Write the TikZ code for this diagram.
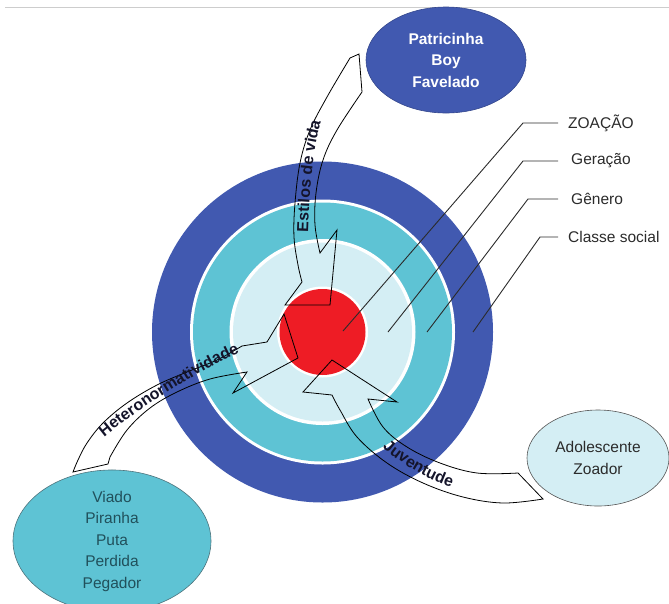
\documentclass[tikz,border=0pt]{standalone}
\usepackage{fontspec}
\setmainfont{Liberation Sans}
\usetikzlibrary{shapes.geometric,decorations.text}

\definecolor{ringblue}{HTML}{4159B0}
\definecolor{ringteal}{HTML}{5EC3D4}
\definecolor{ringpale}{HTML}{D4EEF4}
\definecolor{corered}{HTML}{EE1C25}
\definecolor{inkgray}{HTML}{2B2B2B}
\definecolor{tealink}{HTML}{21505B}
\definecolor{arrowink}{HTML}{14142A}
\definecolor{rulegray}{HTML}{CDCDCD}

\newcommand\arrowlabelfont{\bfseries\fontsize{16}{18}\selectfont\color{arrowink}}

\tikzset{
  layerlabel/.style={font=\fontsize{15.5}{18}\selectfont, text=inkgray,
    anchor=west, inner xsep=10pt, inner ysep=0pt},
  leader/.style={draw=inkgray, line width=0.9pt},
  blockarrow/.style={draw=black, line width=0.8pt, line join=miter},
  bubble/.style={ellipse, inner sep=0pt, align=center,
    font=\fontsize{15.5}{21.5}\selectfont},
  arrowtext/.style={decorate, decoration={text along path, text align=center,
    text={|\arrowlabelfont|#1}}}
}

\begin{document}
\begin{tikzpicture}[x=1pt, y=-1pt]
\useasboundingbox (0,0) rectangle (669,603);

% thin rule along the top edge
\draw[rulegray, line width=1.2pt] (5,7.5) -- (669,7.5);

% concentric target
\coordinate (c) at (322.5,332);
\fill[ringblue]  (c) circle[radius=170.5pt];
\fill[white]     (c) circle[radius=132.5pt];
\fill[ringteal]  (c) circle[radius=129.5pt];
\fill[white]     (c) circle[radius=93pt];
\fill[ringpale]  (c) circle[radius=89.5pt];
\fill[white]     (c) circle[radius=45.5pt];
\fill[corered]   (c) circle[radius=43pt];

% layer labels with leader lines
\node[layerlabel] (zoa) at (558,123) {ZOAÇÃO};
\node[layerlabel] (ger) at (558,161) {\hspace{3pt}Geração};
\node[layerlabel] (gen) at (558,199) {\hspace{3pt}Gênero};
\node[layerlabel] (cla) at (558,237) {Classe social};
\coordinate (zoa-tip) at (343,331);
\coordinate (ger-tip) at (388,332);
\coordinate (gen-tip) at (427,332);
\coordinate (cla-tip) at (473,332);
\draw[leader] (zoa-tip) -- (523,123) -- (zoa.west);
\draw[leader] (ger-tip) -- (523,161) -- (ger.west);
\draw[leader] (gen-tip) -- (528,199) -- (gen.west);
\draw[leader] (cla-tip) -- (540,237) -- (cla.west);

% category bubbles
\node[bubble, fill=ringblue, draw=ringblue!80!black, line width=0.6pt,
  minimum width=160pt, minimum height=106pt, text=white,
  font=\bfseries\fontsize{15.5}{21.5}\selectfont] (estilo) at (446,60)
  {Patricinha\\Boy\\Favelado};
\node[bubble, fill=ringpale, draw=inkgray!80, line width=0.6pt,
  minimum width=142pt, minimum height=96pt, text=inkgray] (juv) at (598,458)
  {Adolescente\\Zoador};
\node[bubble, fill=ringteal, draw=tealink!80, line width=0.6pt,
  minimum width=198pt, minimum height=123pt, text=tealink] (hetero) at (112,541)
  {Viado\\Piranha\\Puta\\Perdida\\Pegador};

% curved block arrow: Estilos de vida
\draw[blockarrow]
  plot[smooth, tension=0.6] coordinates {(350,58) (327,97) (310,130) (300,163) (295,203) (294,237) (298,265) (302,282)}
  -- (285,305) -- (330,305) -- (337,230) -- (320,253)
  -- plot[smooth, tension=0.6] coordinates {(320,253) (315,225) (316,193) (323,160) (337,130) (362,92)}
  -- (359,54) -- cycle;

% curved block arrow: Heteronormatividade
\draw[blockarrow]
  plot[smooth, tension=0.6] coordinates {(73,472) (78,460) (87,443) (103,423) (127,403) (157,385) (187,372) (217,360) (242,346)}
  -- (267,342) -- (284,314) -- (298,358) -- (233,393) -- (247,372)
  -- plot[smooth, tension=0.6] coordinates {(247,372) (210,379) (177,392) (150,408) (127,430) (110,457)}
  -- (108,464) -- cycle;

% curved block arrow: Juventude
\draw[blockarrow]
  (332,395) -- (303,392) -- (332,360) -- (397,402) -- (368,399)
  -- plot[smooth, tension=0.6] coordinates {(368,399) (383,427) (407,447) (440,463) (477,473) (518,473)}
  -- (543,499)
  -- plot[smooth, tension=0.6] coordinates {(543,499) (503,503) (463,497) (423,483) (387,463) (357,437) (340,410) (332,395)}
  -- cycle;

% arrow captions set along the arrow bodies
\path[arrowtext={Estilos de vida}] (308,236) .. controls (309,200) and (312,150) .. (322,118);
\path[arrowtext={Heteronormatividade}] (97,443) .. controls (130,415) and (190,374) .. (248,349);
\path[arrowtext={Juventude}] (374,440) .. controls (398,462) and (428,482) .. (462,490);
\end{tikzpicture}
\end{document}
